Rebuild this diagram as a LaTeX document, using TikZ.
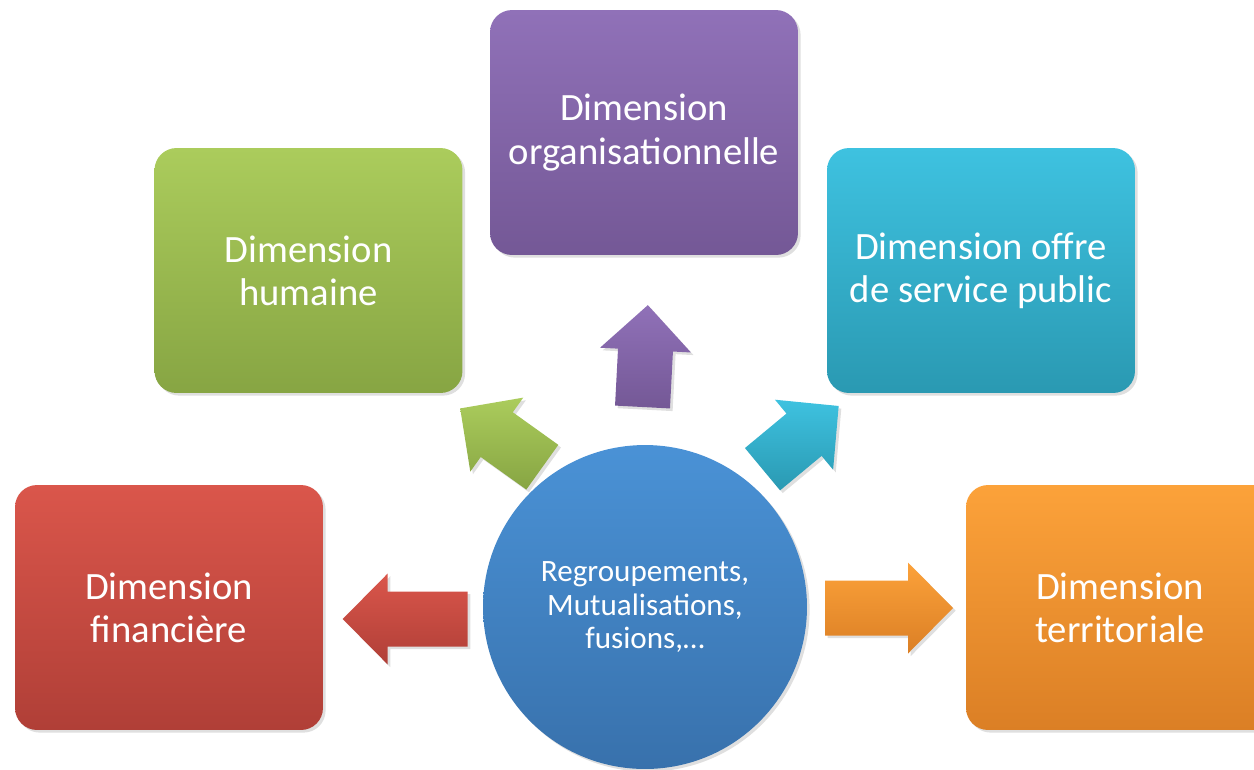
\documentclass[tikz,border=0pt]{standalone}
\usepackage{fontspec}
\setmainfont{Carlito}
\usetikzlibrary{shadows}

\definecolor{topred}{RGB}{218,86,75}
\definecolor{botred}{RGB}{176,63,55}
\definecolor{topgreen}{RGB}{171,204,92}
\definecolor{botgreen}{RGB}{135,165,67}
\definecolor{toppurple}{RGB}{144,113,184}
\definecolor{botpurple}{RGB}{116,88,150}
\definecolor{topcyan}{RGB}{62,194,224}
\definecolor{botcyan}{RGB}{42,153,178}
\definecolor{toporange}{RGB}{252,162,58}
\definecolor{botorange}{RGB}{219,127,37}
\definecolor{tophub}{RGB}{74,146,214}
\definecolor{bothub}{RGB}{56,113,172}

\tikzset{
  softshadow/.style={drop shadow={shadow xshift=1.5pt, shadow yshift=-1.5pt, opacity=0.25}},
  dimbox/.style={softshadow, rounded corners=0.44cm, minimum width=6.16cm, minimum height=4.9cm,
    inner sep=0pt, text=white, align=center, font=\fontsize{22}{24.5}\selectfont},
  hub/.style={softshadow, circle, minimum size=6.48cm, inner sep=0pt, text=white,
    align=center, font=\fontsize{17.7}{19}\selectfont},
  blockarrow/.style={softshadow}
}

\begin{document}
\begin{tikzpicture}[x=0.02cm, y=-0.02cm]
  \useasboundingbox (0,0) rectangle (1254,769);

  % block arrows: base x/base y/angle/length/colour
  \foreach \bx/\by/\ang/\len/\col in {467.7/619/180/125/red, 825/608/0/128/orange,
      642.5/407/87/102/purple, 542.3/467.2/144.4/101/green, 762.5/469.2/39.7/99/cyan} {%
    \begin{scope}[shift={(\bx,\by)}, rotate=\ang]
      \shade[blockarrow, top color=top\col, bottom color=bot\col]
        (0,-27.5) -- (\len-45,-27.5) -- (\len-45,-45.5) -- (\len,0)
        -- (\len-45,45.5) -- (\len-45,27.5) -- (0,27.5) -- cycle;
    \end{scope}
  }

  % the five dimensions
  \node[dimbox, top color=topred, bottom color=botred] (fin) at (169,607.5) {Dimension\\financière};
  \node[dimbox, top color=topgreen, bottom color=botgreen] (hum) at (308.5,270.5) {Dimension\\humaine};
  \node[dimbox, top color=toppurple, bottom color=botpurple] (org) at (644,132.5) {Dimension\\organisationnelle};
  \node[dimbox, top color=topcyan, bottom color=botcyan] (off) at (981,270.5) {Dimension offre\\de service public};
  \node[dimbox, top color=toporange, bottom color=botorange] (ter) at (1120,607.5) {Dimension\\territoriale};

  % centre
  \node[hub, top color=tophub, bottom color=bothub] (reg) at (645,607) {Regroupements,\\Mutualisations,\\fusions,…};
\end{tikzpicture}
\end{document}
